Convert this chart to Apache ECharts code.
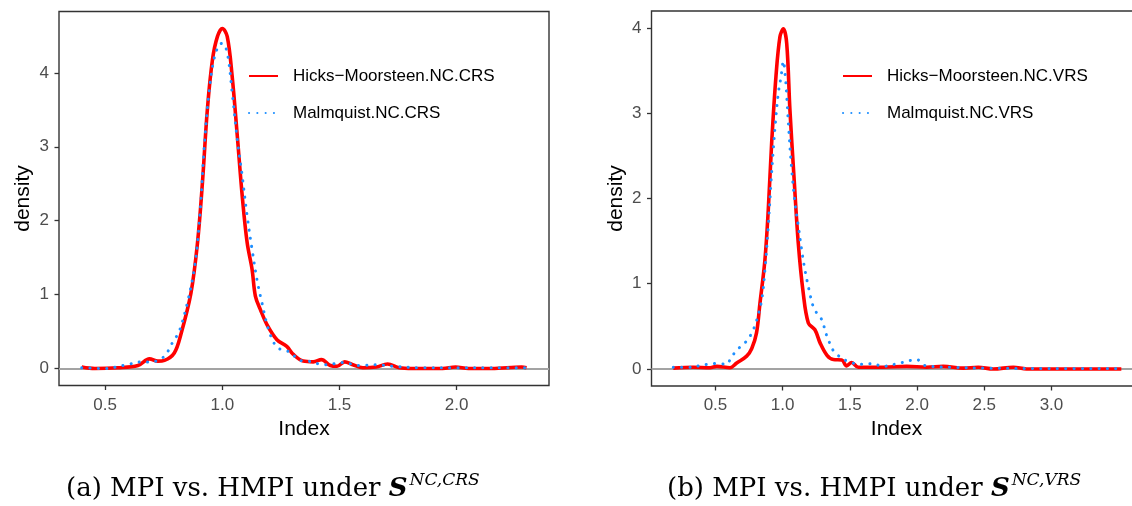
<!DOCTYPE html>
<html><head><meta charset="utf-8">
<script src="https://cdn.jsdelivr.net/npm/echarts@6/dist/echarts.min.js"></script>
<style>html,body{margin:0;padding:0;background:#fff}#c{width:1132px;height:506px}</style>
</head><body><div id="c"></div>
<script>
// Panel (a): NC, CRS
const crsHM_x = [0.40,0.456,0.554,0.64,0.689,0.725,0.753,0.795,0.823,0.866,0.894,0.915,0.936,0.958,0.979,1.0,1.021,1.042,1.064,1.085,1.106,1.127,1.141,1.162,1.191,1.233,1.275,1.303,1.345,1.388,1.423,1.461,1.49,1.522,1.557,1.6,1.656,1.705,1.755,1.811,1.94,1.995,2.05,2.15,2.277,2.298];
const crsHM_y = [0.02,0.0,0.01,0.04,0.13,0.10,0.11,0.21,0.46,1.02,1.70,2.51,3.50,4.18,4.49,4.60,4.49,3.95,3.14,2.33,1.70,1.34,0.98,0.80,0.59,0.39,0.30,0.19,0.10,0.09,0.12,0.04,0.03,0.09,0.05,0.01,0.02,0.06,0.01,0.0,0.0,0.02,0.0,0.0,0.02,0.01];
const crsM_x = [0.40,0.50,0.59,0.66,0.693,0.732,0.76,0.778,0.795,0.816,0.851,0.88,0.894,0.908,0.922,0.943,0.964,0.986,1.0,1.021,1.042,1.064,1.085,1.106,1.127,1.148,1.169,1.197,1.233,1.289,1.331,1.366,1.437,1.515,1.586,1.656,1.727,1.85,2.0,2.15,2.3];
const crsM_y = [0.01,0.0,0.05,0.09,0.085,0.12,0.19,0.30,0.39,0.50,0.89,1.34,1.70,2.24,2.96,3.73,4.18,4.38,4.40,4.27,3.73,3.09,2.60,2.06,1.61,1.20,0.89,0.53,0.29,0.22,0.11,0.10,0.05,0.08,0.04,0.05,0.03,0.01,0.01,0.01,0.01];
// Panel (b): NC, VRS
const vrsHM_x = [0.186,0.335,0.46,0.51,0.608,0.658,0.732,0.77,0.805,0.831,0.868,0.893,0.918,0.95,0.98,1.005,1.03,1.054,1.084,1.116,1.153,1.191,1.24,1.28,1.33,1.377,1.44,1.476,1.513,1.563,1.749,1.923,2.071,2.195,2.344,2.455,2.567,2.716,2.815,3.0,3.3,3.52];
const vrsHM_y = [0.01,0.02,0.015,0.03,0.015,0.07,0.15,0.24,0.42,0.77,1.28,1.87,2.65,3.43,3.90,3.99,3.82,3.04,2.26,1.48,0.89,0.54,0.46,0.30,0.16,0.11,0.105,0.035,0.075,0.02,0.02,0.03,0.02,0.03,0.01,0.02,0.0,0.02,0.0,0.0,0.0,0.0];
const vrsM_x = [0.186,0.33,0.385,0.447,0.52,0.578,0.62,0.652,0.707,0.744,0.781,0.801,0.844,0.868,0.893,0.913,0.930,0.948,0.968,0.988,1.005,1.022,1.030,1.047,1.067,1.092,1.117,1.141,1.166,1.196,1.228,1.265,1.29,1.33,1.357,1.389,1.49,1.613,1.67,1.74,1.873,1.998,2.06,2.26,2.51,3.0,3.52];
const vrsM_y = [0.02,0.02,0.04,0.055,0.065,0.055,0.14,0.21,0.29,0.35,0.46,0.54,0.81,1.16,1.67,2.18,2.57,2.92,3.24,3.43,3.61,3.39,3.20,2.77,2.34,1.94,1.67,1.40,1.16,0.93,0.73,0.63,0.58,0.38,0.28,0.19,0.085,0.055,0.065,0.03,0.07,0.11,0.04,0.02,0.01,0.005,0.005];
// Tick labels
const xTicksA = [0.5, 1.0, 1.5, 2.0];
const xTicksB = [0.5, 1.0, 1.5, 2.0, 2.5, 3.0];
const yTicksA = [0, 1, 2, 3, 4];
const yTicksB = [0, 1, 2, 3, 4];
const namesA = ['Hicks\u2212Moorsteen.NC.CRS', 'Malmquist.NC.CRS'];
const namesB = ['Hicks\u2212Moorsteen.NC.VRS', 'Malmquist.NC.VRS'];

const pairs = (xs, ys) => xs.map((x, i) => [x, ys[i]]);
const SANS = '"Liberation Sans", Arial, sans-serif';
const SERIF = '"DejaVu Serif", "Liberation Serif", serif';
const RED = '#FF0000', BLUE = '#1E8FFF';

function xAxis(idx, min, max, ticks) {
  return {
    type: 'value', gridIndex: idx, min: min, max: max, position: 'bottom',
    name: 'Index', nameLocation: 'middle', nameGap: 33,
    nameTextStyle: { fontFamily: SANS, fontSize: 21, color: '#000' },
    axisLine: { show: false, onZero: false },
    axisTick: { show: true, inside: false, length: 4.5, customValues: ticks, lineStyle: { color: '#333', width: 1.3 } },
    axisLabel: { customValues: ticks, margin: 11, fontFamily: SANS, fontSize: 17, color: '#4D4D4D',
      formatter: v => v.toFixed(1) },
    splitLine: { show: false }
  };
}
function yAxis(idx, min, max, ticks) {
  return {
    type: 'value', gridIndex: idx, min: min, max: max,
    name: 'density', nameLocation: 'middle', nameGap: 25, nameRotate: 90,
    nameTextStyle: { fontFamily: SANS, fontSize: 21, color: '#000' },
    axisLine: { show: false, onZero: false },
    axisTick: { show: true, inside: false, length: 4.5, customValues: ticks, lineStyle: { color: '#333', width: 1.3 } },
    axisLabel: { customValues: ticks, margin: 10, fontFamily: SANS, fontSize: 17, color: '#4D4D4D',
      formatter: v => String(Math.round(v)) },
    splitLine: { show: false }
  };
}
function redSeries(name, idx, data) {
  return {
    name: name, type: 'line', xAxisIndex: idx, yAxisIndex: idx, data: data,
    symbol: 'none', smooth: 0.35, z: 3,
    lineStyle: { color: RED, width: 3.6 }, itemStyle: { color: RED },
    markLine: { silent: true, symbol: 'none', label: { show: false }, z: 1,
      lineStyle: { color: '#A3A3A3', width: 2, type: 'solid' }, data: [{ yAxis: 0 }] }
  };
}
function blueSeries(name, idx, data) {
  return {
    name: name, type: 'line', xAxisIndex: idx, yAxisIndex: idx, data: data,
    symbol: 'none', smooth: 0.35, z: 4,
    lineStyle: { color: BLUE, width: 3, type: [0.1, 8.2], cap: 'round' }, itemStyle: { color: BLUE }
  };
}
function legend(left, names) {
  return {
    left: left, top: 66, padding: 0, orient: 'vertical', itemWidth: 29, itemHeight: 14, itemGap: 17,
    selectedMode: false, data: names,
    itemStyle: { opacity: 0, borderWidth: 0 },
    textStyle: { fontFamily: SANS, fontSize: 17, color: '#000', padding: [0, 0, 0, 10], lineHeight: 20 }
  };
}
function caption(left, letter, sup) {
  return {
    left: left, top: 472, padding: 0,
    text: '(' + letter + ') MPI vs. HMPI under {s|S}{sup|' + sup + '}',
    textStyle: {
      fontFamily: SERIF, fontSize: 26, fontWeight: 'normal', color: '#000', lineHeight: 34,
      rich: {
        s: { fontFamily: SERIF, fontSize: 26, fontWeight: 'bold', fontStyle: 'italic', color: '#000', lineHeight: 34 },
        sup: { fontFamily: SERIF, fontSize: 17, fontStyle: 'italic', color: '#000', verticalAlign: 'top', lineHeight: 20, padding: [0, 0, 0, 2] }
      }
    }
  };
}

const chart = echarts.init(document.getElementById('c'), null, { renderer: 'canvas' });
chart.setOption({
  animation: false,
  backgroundColor: '#fff',
  title: [caption(66, 'a', 'NC,CRS'), caption(667, 'b', 'NC,VRS')],
  legend: [legend(248, namesA), legend(842, namesB)],
  grid: [
    { left: 59, top: 11.5, width: 490, height: 374, outerBoundsMode: 'none', containLabel: false, show: true, borderColor: '#333', borderWidth: 1.4, backgroundColor: 'transparent' },
    { left: 651.5, top: 11, width: 490, height: 375, outerBoundsMode: 'none', containLabel: false, show: true, borderColor: '#333', borderWidth: 1.4, backgroundColor: 'transparent' }
  ],
  xAxis: [xAxis(0, 0.303, 2.394, xTicksA), xAxis(1, 0.024, 3.67, xTicksB)],
  yAxis: [yAxis(0, -0.23, 4.83, yTicksA), yAxis(1, -0.2, 4.2, yTicksB)],
  series: [
    redSeries(namesA[0], 0, pairs(crsHM_x, crsHM_y)),
    blueSeries(namesA[1], 0, pairs(crsM_x, crsM_y)),
    redSeries(namesB[0], 1, pairs(vrsHM_x, vrsHM_y)),
    blueSeries(namesB[1], 1, pairs(vrsM_x, vrsM_y))
  ]
});
</script></body></html>
